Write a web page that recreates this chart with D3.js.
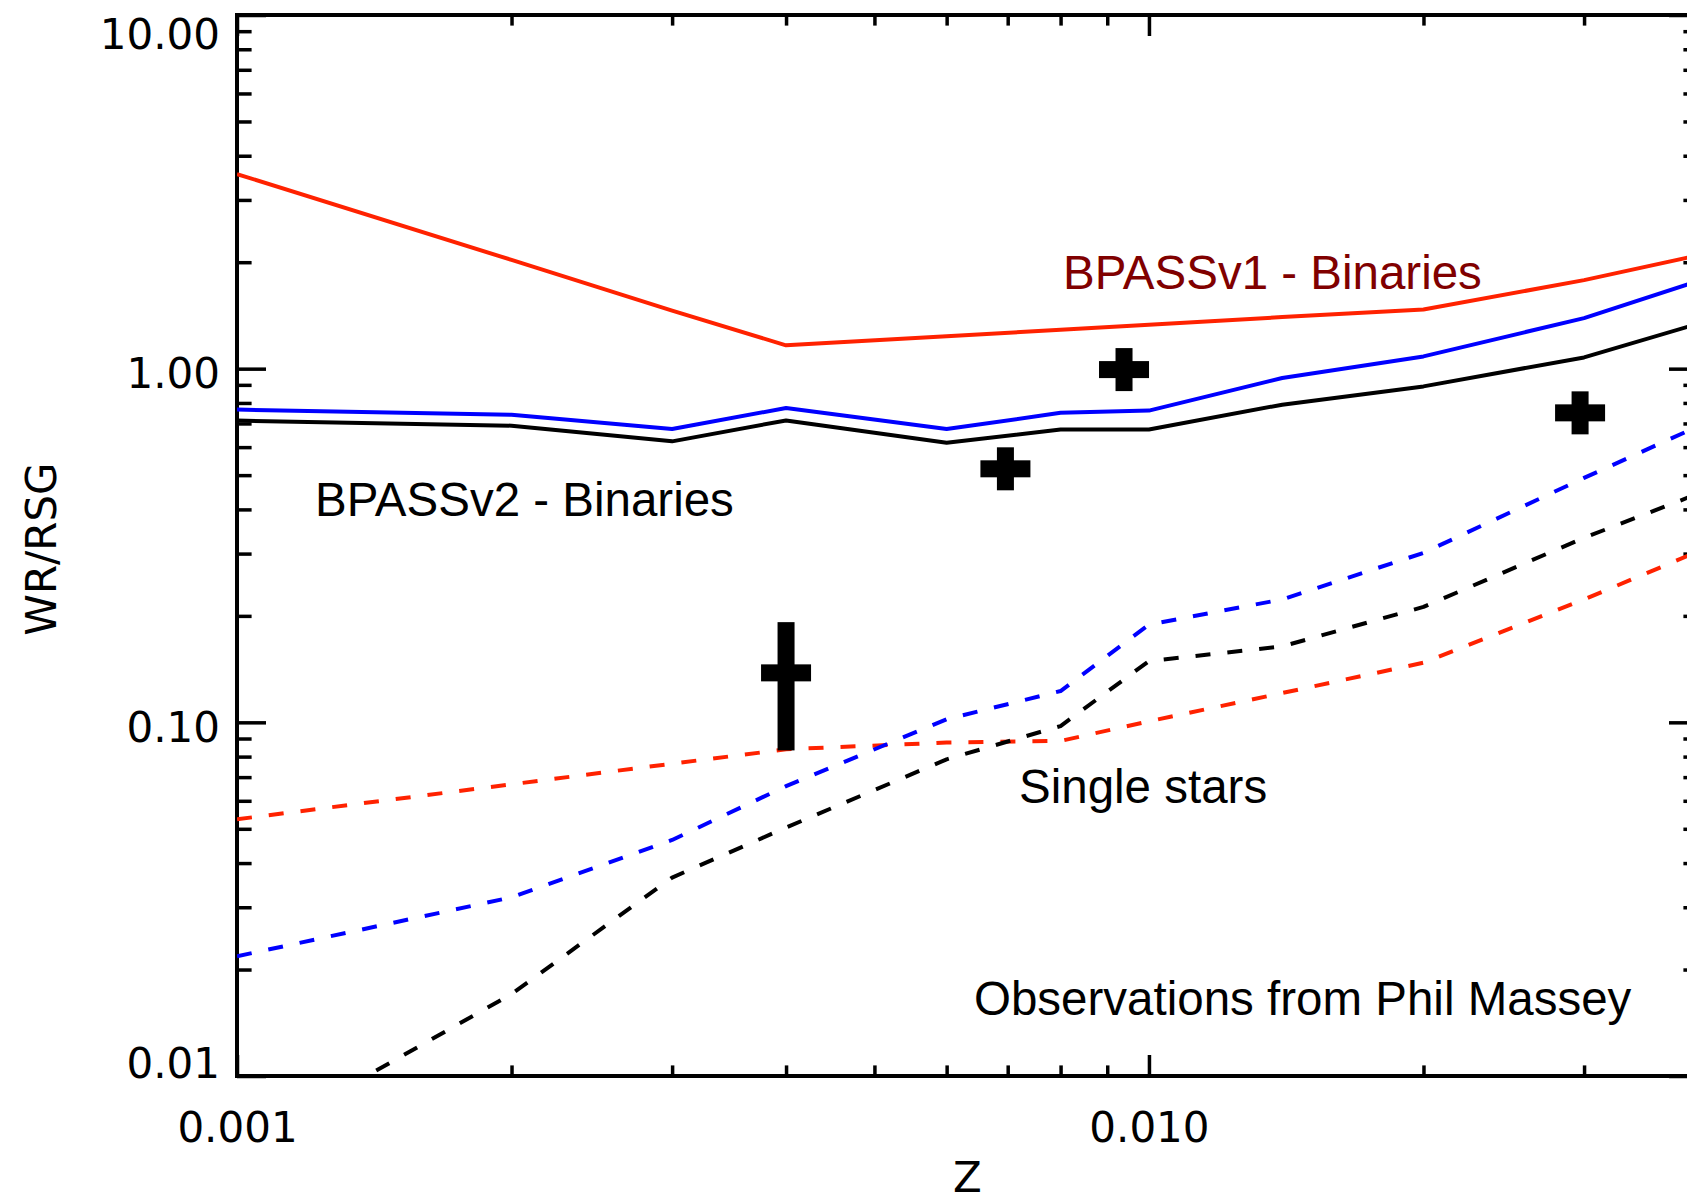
<!DOCTYPE html>
<meta charset="UTF-8">
<style>
body { margin: 0; background: #fff; }
.tick text { font-family: "DejaVu Sans", sans-serif; font-size: 42px; fill: #000; }
.tick line { stroke: #000; stroke-width: 3.5px; }
.note { font-family: "Liberation Sans", Arial, sans-serif; font-size: 47.5px; }
.line { fill: none; stroke-width: 4px; stroke-linejoin: round; }
</style>
<body>
<script src="https://d3js.org/d3.v7.min.js"></script>
<script>

// metallicities of the models
var Z = [0.001, 0.002, 0.003, 0.004, 0.006, 0.008, 0.010, 0.014, 0.020, 0.030, 0.040];

// binary models (solid)
var v1Binaries   = [3.55, 2.03, 1.46, 1.164, 1.235, 1.289, 1.331, 1.399, 1.47, 1.78, 2.09];
var v2BinBlue    = [0.766, 0.741, 0.675, 0.774, 0.675, 0.75, 0.761, 0.941, 1.083, 1.39, 1.77];
var v2BinBlack   = [0.713, 0.690, 0.623, 0.714, 0.617, 0.673, 0.673, 0.791, 0.891, 1.076, 1.34];

// single star models (dashed)
var singleRed    = [0.0532, 0.0668, 0.0764, 0.0839, 0.0877, 0.0886, 0.1007, 0.121, 0.1474, 0.2226, 0.304];
var singleBlue   = [0.0218, 0.032, 0.0465, 0.066, 0.102, 0.1226, 0.189, 0.2226, 0.3014, 0.491, 0.687];
var singleBlack  = [0.0062, 0.01705, 0.0364, 0.0504, 0.0786, 0.0976, 0.149, 0.164, 0.212, 0.3325, 0.443];

// observations (Massey)
var obsZ     = [0.004, 0.00696, 0.00939, 0.0297];
var obsRatio = [0.138, 0.521, 0.994, 0.75];
var obsLow   = [0.0833, 0.521, 0.994, 0.75];
var obsHigh  = [0.192, 0.521, 0.994, 0.75];

// axis ticks
var xMajor = [0.001, 0.01, 0.04];
var xMinor = [0.002, 0.003, 0.004, 0.005, 0.006, 0.007, 0.008, 0.009, 0.02, 0.03];
var xLabels = [0.001, 0.01];
var yMajor = [0.01, 0.1, 1, 10];
var yMinor = [];
[0.01, 0.1, 1].forEach(function(d) {
  for (var k = 2; k <= 9; k++) yMinor.push(+(d * k).toPrecision(2));
});

var width = 1687, height = 1203;
var plotL = 237, plotR = 1698, plotT = 15, plotB = 1076;

var svg = d3.select("body").append("svg")
    .attr("width", width)
    .attr("height", height);

var x = d3.scaleLog().domain([0.001, 0.04]).range([plotL, plotR]);
var y = d3.scaleLog().domain([0.01, 10]).range([plotB, plotT]);

svg.append("clipPath").attr("id", "plot")
  .append("rect")
    .attr("x", plotL).attr("y", plotT)
    .attr("width", plotR - plotL).attr("height", plotB - plotT);

// ---- axes ----
function ticks(axis, pos, vals, len, fmt) {
  var g = svg.append("g")
      .attr("transform", pos)
      .call(axis.tickValues(vals).tickSize(-len).tickSizeOuter(0).tickFormat(fmt || ""));
  g.select(".domain").remove();
  return g;
}

var bottomAxis = ticks(d3.axisBottom(x).tickPadding(36), "translate(0," + plotB + ")", xMajor, 21,
    function(d) { return xLabels.indexOf(d) >= 0 ? d3.format(".3f")(d) : ""; });
ticks(d3.axisBottom(x), "translate(0," + plotB + ")", xMinor, 10.6);
ticks(d3.axisTop(x), "translate(0," + plotT + ")", xMajor, 21);
ticks(d3.axisTop(x), "translate(0," + plotT + ")", xMinor, 10.6);

var leftAxis = ticks(d3.axisLeft(y).tickPadding(17), "translate(" + plotL + ",0)", yMajor, 29, d3.format(".2f"));
ticks(d3.axisLeft(y), "translate(" + plotL + ",0)", yMinor, 14.6);
ticks(d3.axisRight(y), "translate(" + plotR + ",0)", yMajor, 29);
ticks(d3.axisRight(y), "translate(" + plotR + ",0)", yMinor, 14.6);

// nudge the y labels like the original (end labels pushed inside)
var yShift = {10: 33, 1: 19, 0.1: 19, 0.01: 1};
leftAxis.selectAll(".tick text")
    .attr("dy", null)
    .attr("y", function(d) { return yShift[d]; });
bottomAxis.selectAll(".tick text").attr("dy", "0.71em");

// frame
svg.append("rect")
    .attr("x", plotL).attr("y", plotT)
    .attr("width", plotR - plotL).attr("height", plotB - plotT)
    .attr("fill", "none")
    .attr("stroke", "#000")
    .attr("stroke-width", 4);

// axis titles
svg.append("text")
    .attr("x", (plotL + plotR) / 2)
    .attr("y", 1192)
    .attr("text-anchor", "middle")
    .style("font-family", "DejaVu Sans, sans-serif")
    .style("font-size", "42px")
    .text("Z");

svg.append("text")
    .attr("transform", "translate(56,549) rotate(-90)")
    .attr("text-anchor", "middle")
    .style("font-family", "DejaVu Sans, sans-serif")
    .style("font-size", "42px")
    .text("WR/RSG");

// ---- model lines ----
var line = d3.line()
    .x(function(d) { return x(d[0]); })
    .y(function(d) { return y(d[1]); });

var series = [
  {v: v1Binaries, color: "#ff2200", dash: null},
  {v: v2BinBlue, color: "#0000ff", dash: null},
  {v: v2BinBlack, color: "#000000", dash: null},
  {v: singleRed, color: "#ff2200", dash: "15,17"},
  {v: singleBlue, color: "#0000ff", dash: "15,17"},
  {v: singleBlack, color: "#000000", dash: "15,17"}
];

svg.append("g")
    .attr("clip-path", "url(#plot)")
  .selectAll("path")
  .data(series)
  .enter().append("path")
    .attr("class", "line")
    .attr("stroke", function(d) { return d.color; })
    .attr("stroke-dasharray", function(d) { return d.dash; })
    .attr("d", function(d) { return line(d3.zip(Z, d.v)); });

// ---- observations: fat plus signs, vertical bar covers the error range ----
var armW = 50, armH = 43, thick = 17;
var obs = d3.range(obsZ.length).map(function(i) {
  return {z: obsZ[i], r: obsRatio[i], lo: obsLow[i], hi: obsHigh[i]};
});

var mark = svg.append("g").selectAll("g")
  .data(obs)
  .enter().append("g");

mark.append("rect")
    .attr("x", function(d) { return x(d.z) - armW / 2; })
    .attr("y", function(d) { return y(d.r) - thick / 2; })
    .attr("width", armW)
    .attr("height", thick);

mark.append("rect")
    .attr("x", function(d) { return x(d.z) - thick / 2; })
    .attr("y", function(d) { return Math.min(y(d.hi), y(d.r) - armH / 2); })
    .attr("width", thick)
    .attr("height", function(d) {
      var t = Math.min(y(d.hi), y(d.r) - armH / 2);
      var b = Math.max(y(d.lo), y(d.r) + armH / 2);
      return b - t;
    });

// ---- annotations ----
var notes = [
  {t: "BPASSv1 - Binaries", x: 1063, y: 289, c: "#800000"},
  {t: "BPASSv2 - Binaries", x: 315, y: 516, c: "#000"},
  {t: "Single stars", x: 1019, y: 803, c: "#000"},
  {t: "Observations from Phil Massey", x: 974, y: 1015, c: "#000"}
];

svg.selectAll("text.note")
  .data(notes)
  .enter().append("text")
    .attr("class", "note")
    .attr("x", function(d) { return d.x; })
    .attr("y", function(d) { return d.y; })
    .attr("fill", function(d) { return d.c; })
    .text(function(d) { return d.t; });

</script>
</body>
